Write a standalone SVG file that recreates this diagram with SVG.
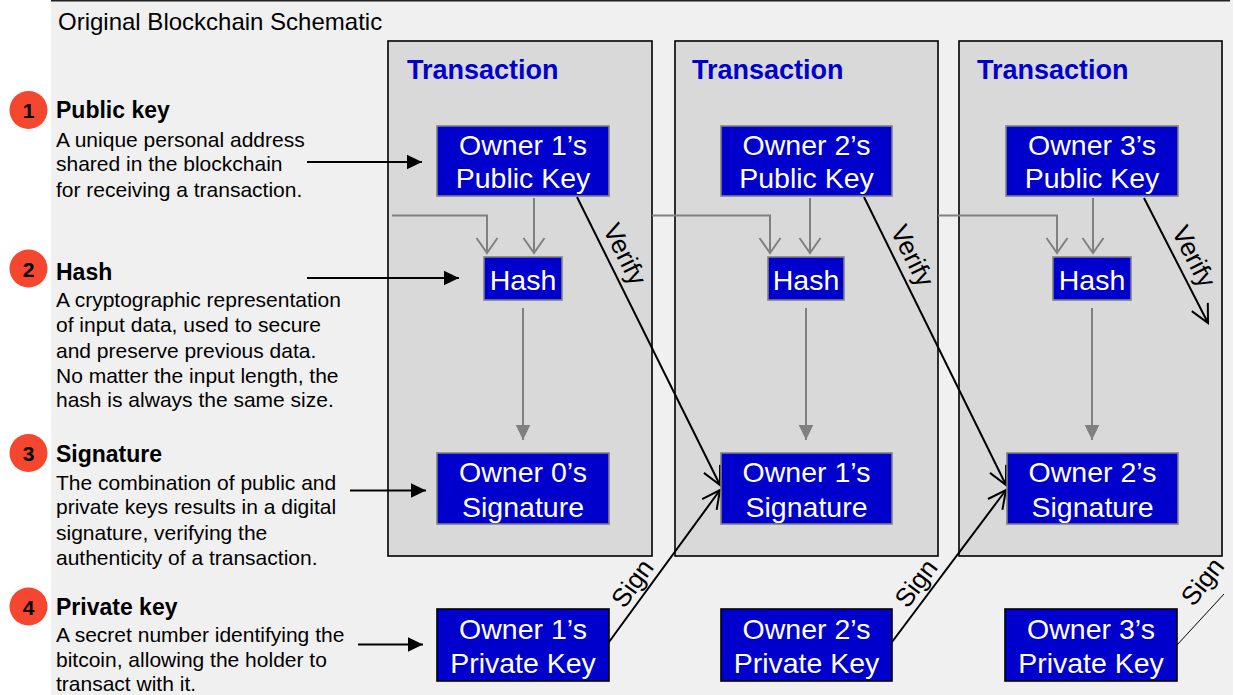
<svg xmlns="http://www.w3.org/2000/svg" width="1235" height="695" viewBox="0 0 1235 695">
  <style>
    text { font-family: "Liberation Sans", Arial, Helvetica, sans-serif; }
    .title { font-size: 24px; fill: #000; }
    .head { font-size: 23px; font-weight: bold; fill: #000; }
    .body { font-size: 21px; fill: #000; }
    .num { font-size: 21px; font-weight: bold; fill: #000; text-anchor: middle; }
    .badge { fill: #f5462f; }
    .tx-box { fill: #d9d9d9; stroke: #000; stroke-width: 1.6; }
    .tx-title { font-size: 27px; font-weight: bold; fill: #0000cc; }
    .node { fill: #0000cc; stroke: #808080; stroke-width: 1.6; }
    .node-priv { fill: #0000cc; stroke: #000; stroke-width: 1.6; }
    .node-text { font-size: 28.5px; fill: #fff; text-anchor: middle; }
    .lbl { font-size: 26px; fill: #000; text-anchor: middle; }
    .k { fill: none; stroke: #000; stroke-width: 2; }
    .k-thin { fill: none; stroke: #000; stroke-width: 1; }
    .g { fill: none; stroke: #808080; stroke-width: 2; }
  </style>
  <defs>
    <marker id="tri-k" markerUnits="userSpaceOnUse" viewBox="-16 -8 17 16" refX="0" refY="0" markerWidth="17" markerHeight="16" orient="auto" overflow="visible">
      <path d="M-15,-7.3 L0,0 L-15,7.3 Z" fill="#000"/>
    </marker>
    <marker id="tri-g" markerUnits="userSpaceOnUse" viewBox="-16 -8 17 16" refX="0" refY="0" markerWidth="17" markerHeight="16" orient="auto" overflow="visible">
      <path d="M-15,-7.3 L0,0 L-15,7.3 Z" fill="#808080"/>
    </marker>
    <marker id="chev-g" markerUnits="userSpaceOnUse" viewBox="-16 -12 17 24" refX="0" refY="0" markerWidth="17" markerHeight="24" orient="auto" overflow="visible">
      <path d="M-15,-10.5 L0,0 L-15,10.5" fill="none" stroke="#808080" stroke-width="2"/>
    </marker>
    <marker id="chev-k" markerUnits="userSpaceOnUse" viewBox="-20 -11 21 22" refX="0" refY="0" markerWidth="21" markerHeight="22" orient="auto" overflow="visible">
      <path d="M-18,-9 L0,0 L-18,9" fill="none" stroke="#000" stroke-width="2"/>
    </marker>
  </defs>

  <!-- page background -->
  <rect x="0" y="0" width="1235" height="695" fill="#fff"/>
  <rect x="51" y="0" width="1182" height="695" fill="#f0f0f0"/>
  <line x1="51" y1="0.8" x2="1230" y2="0.8" stroke="#222" stroke-width="1.6"/>

  <text class="title" x="58" y="30">Original Blockchain Schematic</text>

  <!-- legend -->
  <g id="legend-public-key">
    <circle class="badge" cx="28.5" cy="110" r="19"/>
    <text class="num" x="28.5" y="118">1</text>
    <text class="head" x="56" y="118">Public key</text>
    <text class="body" x="56" y="146.5">A unique personal address</text>
    <text class="body" x="56" y="171">shared in the blockchain</text>
    <text class="body" x="56" y="196.5">for receiving a transaction.</text>
  </g>
  <g id="legend-hash">
    <circle class="badge" cx="28.5" cy="268.5" r="19"/>
    <text class="num" x="28.5" y="276.5">2</text>
    <text class="head" x="56" y="280">Hash</text>
    <text class="body" x="56" y="306.5">A cryptographic representation</text>
    <text class="body" x="56" y="331.5">of input data, used to secure</text>
    <text class="body" x="56" y="357.5">and preserve previous data.</text>
    <text class="body" x="56" y="382.5">No matter the input length, the</text>
    <text class="body" x="56" y="406.5">hash is always the same size.</text>
  </g>
  <g id="legend-signature">
    <circle class="badge" cx="28.5" cy="453" r="19"/>
    <text class="num" x="28.5" y="461">3</text>
    <text class="head" x="56" y="461.5">Signature</text>
    <text class="body" x="56" y="490">The combination of public and</text>
    <text class="body" x="56" y="514">private keys results in a digital</text>
    <text class="body" x="56" y="540">signature, verifying the</text>
    <text class="body" x="56" y="565">authenticity of a transaction.</text>
  </g>
  <g id="legend-private-key">
    <circle class="badge" cx="28.5" cy="606.5" r="19"/>
    <text class="num" x="28.5" y="614.5">4</text>
    <text class="head" x="56" y="615">Private key</text>
    <text class="body" x="56" y="641.5">A secret number identifying the</text>
    <text class="body" x="56" y="666.5">bitcoin, allowing the holder to</text>
    <text class="body" x="56" y="690.5">transact with it.</text>
  </g>

  <!-- transaction frames -->
  <g id="transaction-1">
    <rect class="tx-box" x="388" y="41" width="264" height="515"/>
    <text class="tx-title" x="407" y="79">Transaction</text>
  </g>
  <g id="transaction-2">
    <rect class="tx-box" x="675" y="41" width="263" height="515"/>
    <text class="tx-title" x="692" y="79">Transaction</text>
  </g>
  <g id="transaction-3">
    <rect class="tx-box" x="959" y="41" width="263" height="515"/>
    <text class="tx-title" x="977" y="79">Transaction</text>
  </g>

  <!-- connectors -->
  <g id="connectors">
    <!-- legend pointers -->
    <line class="k" x1="307" y1="162" x2="422" y2="162" marker-end="url(#tri-k)"/>
    <line class="k" x1="307" y1="278" x2="459" y2="278" marker-end="url(#tri-k)"/>
    <line class="k" x1="350" y1="490.5" x2="426" y2="490.5" marker-end="url(#tri-k)"/>
    <line class="k" x1="358" y1="644.5" x2="423" y2="644.5" marker-end="url(#tri-k)"/>

    <!-- hash inputs: previous transaction + public key -->
    <polyline class="g" points="392,215.5 487,215.5 487,253" marker-end="url(#chev-g)"/>
    <line class="g" x1="534" y1="198" x2="534" y2="253" marker-end="url(#chev-g)"/>
    <polyline class="g" points="652,215.5 770,215.5 770,253" marker-end="url(#chev-g)"/>
    <line class="g" x1="810" y1="198" x2="810" y2="253" marker-end="url(#chev-g)"/>
    <polyline class="g" points="938,215.5 1057,215.5 1057,253" marker-end="url(#chev-g)"/>
    <line class="g" x1="1093" y1="198" x2="1093" y2="253" marker-end="url(#chev-g)"/>

    <!-- hash to signature -->
    <line class="g" x1="523" y1="308" x2="523" y2="440" marker-end="url(#tri-g)"/>
    <line class="g" x1="806" y1="308" x2="806" y2="440" marker-end="url(#tri-g)"/>
    <line class="g" x1="1092" y1="308" x2="1092" y2="440" marker-end="url(#tri-g)"/>

    <!-- verify -->
    <line class="k" x1="577" y1="197" x2="720" y2="485" marker-end="url(#chev-k)"/>
    <line class="k" x1="864" y1="197" x2="1006" y2="485" marker-end="url(#chev-k)"/>
    <line class="k" x1="1144" y1="198" x2="1208" y2="323" marker-end="url(#chev-k)"/>

    <!-- sign -->
    <line class="k" x1="609" y1="642" x2="720" y2="490" marker-end="url(#chev-k)"/>
    <line class="k" x1="892" y1="642" x2="1006" y2="490" marker-end="url(#chev-k)"/>
    <line class="k-thin" x1="1177" y1="645" x2="1224" y2="594"/>

    <text class="lbl" transform="translate(617,258) rotate(63.6)">Verify</text>
    <text class="lbl" transform="translate(904.5,259.5) rotate(63.6)">Verify</text>
    <text class="lbl" transform="translate(1186,260.5) rotate(62.9)">Verify</text>
    <text class="lbl" transform="translate(639.5,588.5) rotate(-53.9)">Sign</text>
    <text class="lbl" transform="translate(923,588.5) rotate(-53.1)">Sign</text>
    <text class="lbl" transform="translate(1209.5,587) rotate(-52)">Sign</text>
  </g>

  <!-- nodes -->
  <g id="pubkey-1">
    <rect class="node" x="437" y="126" width="172" height="70"/>
    <text class="node-text" x="523" y="155">Owner 1’s</text>
    <text class="node-text" x="523" y="188">Public Key</text>
  </g>
  <g id="pubkey-2">
    <rect class="node" x="721" y="126" width="171" height="70"/>
    <text class="node-text" x="806.5" y="155">Owner 2’s</text>
    <text class="node-text" x="806.5" y="188">Public Key</text>
  </g>
  <g id="pubkey-3">
    <rect class="node" x="1006" y="126" width="172" height="70"/>
    <text class="node-text" x="1092" y="155">Owner 3’s</text>
    <text class="node-text" x="1092" y="188">Public Key</text>
  </g>

  <g id="hash-1">
    <rect class="node" x="484" y="257" width="78" height="43"/>
    <text class="node-text" x="523" y="290">Hash</text>
  </g>
  <g id="hash-2">
    <rect class="node" x="768" y="257" width="76" height="43"/>
    <text class="node-text" x="806" y="290">Hash</text>
  </g>
  <g id="hash-3">
    <rect class="node" x="1053" y="257" width="78" height="43"/>
    <text class="node-text" x="1092" y="290">Hash</text>
  </g>

  <g id="signature-0">
    <rect class="node" x="437" y="453" width="172" height="71"/>
    <text class="node-text" x="523" y="482">Owner 0’s</text>
    <text class="node-text" x="523" y="516.5">Signature</text>
  </g>
  <g id="signature-1">
    <rect class="node" x="721" y="453" width="171" height="71"/>
    <text class="node-text" x="806.5" y="482">Owner 1’s</text>
    <text class="node-text" x="806.5" y="516.5">Signature</text>
  </g>
  <g id="signature-2">
    <rect class="node" x="1007" y="453" width="171" height="71"/>
    <text class="node-text" x="1092.5" y="482">Owner 2’s</text>
    <text class="node-text" x="1092.5" y="516.5">Signature</text>
  </g>

  <g id="privkey-1">
    <rect class="node-priv" x="437" y="609" width="172" height="72"/>
    <text class="node-text" x="523" y="638.5">Owner 1’s</text>
    <text class="node-text" x="523" y="673">Private Key</text>
  </g>
  <g id="privkey-2">
    <rect class="node-priv" x="721" y="609" width="171" height="72"/>
    <text class="node-text" x="806.5" y="638.5">Owner 2’s</text>
    <text class="node-text" x="806.5" y="673">Private Key</text>
  </g>
  <g id="privkey-3">
    <rect class="node-priv" x="1005" y="609" width="172" height="72"/>
    <text class="node-text" x="1091" y="638.5">Owner 3’s</text>
    <text class="node-text" x="1091" y="673">Private Key</text>
  </g>
</svg>
